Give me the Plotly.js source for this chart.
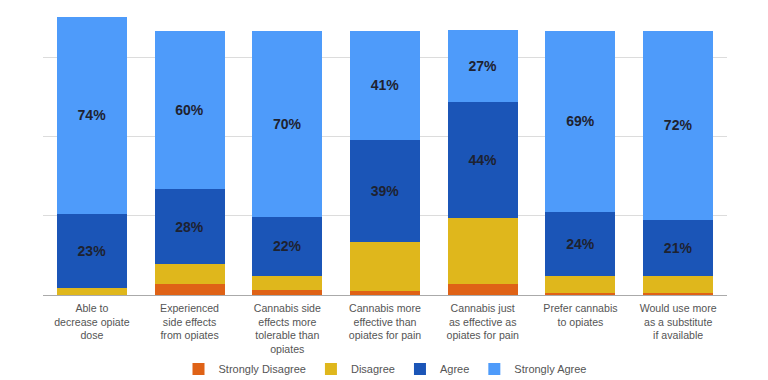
<!DOCTYPE html>
<html>
<head>
<meta charset="utf-8">
<script src="https://cdn.plot.ly/plotly-3.0.1.min.js"></script>
<style>html,body{margin:0;padding:0;background:#fff;}#chart{width:768px;height:380px;}</style>
</head>
<body>
<div id="chart"></div>
<script>
var categories = [
  "Able to<br>decrease opiate<br>dose",
  "Experienced<br>side effects<br>from opiates",
  "Cannabis side<br>effects more<br>tolerable than<br>opiates",
  "Cannabis more<br>effective than<br>opiates for pain",
  "Cannabis just<br>as effective as<br>opiates for pain",
  "Prefer cannabis<br>to opiates",
  "Would use more<br>as a substitute<br>if available"
];
var stronglyDisagree = [0, 4.0, 1.9, 1.6, 4.2, 0.8, 0.6];
var disagree = [2.7, 7.6, 5.3, 18.3, 25.1, 6.3, 6.5];
var agree = [28.1, 28.6, 22.4, 38.7, 43.8, 24.4, 21.3];
var stronglyAgree = [74.3, 59.8, 70.4, 41.4, 27.0, 68.5, 71.5];
var agreeLabels = ["23%", "28%", "22%", "39%", "44%", "24%", "21%"];
var stronglyAgreeLabels = ["74%", "60%", "70%", "41%", "27%", "69%", "72%"];

var labelFont = {family: "Liberation Sans, Arial, sans-serif", size: 14, color: "#1e2230", weight: "bold"};

function series(name, y, color, text) {
  var t = {
    type: "bar", name: name, x: categories, y: y,
    marker: {color: color, line: {width: 0}},
    hoverinfo: "skip"
  };
  if (text) {
    t.text = text;
    t.texttemplate = "<b>%{text}</b>";
    t.textposition = "inside";
    t.insidetextanchor = "middle";
    t.textangle = 0;
    t.insidetextfont = labelFont;
    t.constraintext = "none";
  } else {
    t.textposition = "none";
  }
  return t;
}

var data = [
  series("Strongly Disagree", stronglyDisagree, "#df6216"),
  series("Disagree", disagree, "#dfb71c"),
  series("Agree", agree, "#1b55b7", agreeLabels),
  series("Strongly Agree", stronglyAgree, "#4e9bfa", stronglyAgreeLabels)
];

var layout = {
  width: 768, height: 380,
  margin: {l: 43, r: 41, t: 10, b: 85, autoexpand: false},
  barmode: "stack",
  bargap: 0.283,
  paper_bgcolor: "#fff", plot_bgcolor: "#fff",
  font: {family: "Liberation Sans, Arial, sans-serif", size: 11, color: "#555"},
  xaxis: {
    type: "category", showgrid: false, showline: true, linecolor: "#aaa", linewidth: 1,
    ticks: "", tickfont: {size: 10.6, color: "#555"}, automargin: false, ticklabelstandoff: 3
  },
  yaxis: {
    range: [0, 107.8], dtick: 30, tick0: 0, showticklabels: false,
    showgrid: true, gridcolor: "#dcdcdc", gridwidth: 1,
    zeroline: false, showline: false, ticks: "", fixedrange: true, automargin: false
  },
  showlegend: true,
  legend: {
    orientation: "h", x: 0.5, xanchor: "center", yref: "container", y: 0.029, yanchor: "middle",
    font: {size: 11, color: "#555"}, traceorder: "normal", itemwidth: 30,
    bgcolor: "rgba(0,0,0,0)"
  }
};

Plotly.newPlot("chart", data, layout, {displayModeBar: false, staticPlot: true});
</script>
</body>
</html>
